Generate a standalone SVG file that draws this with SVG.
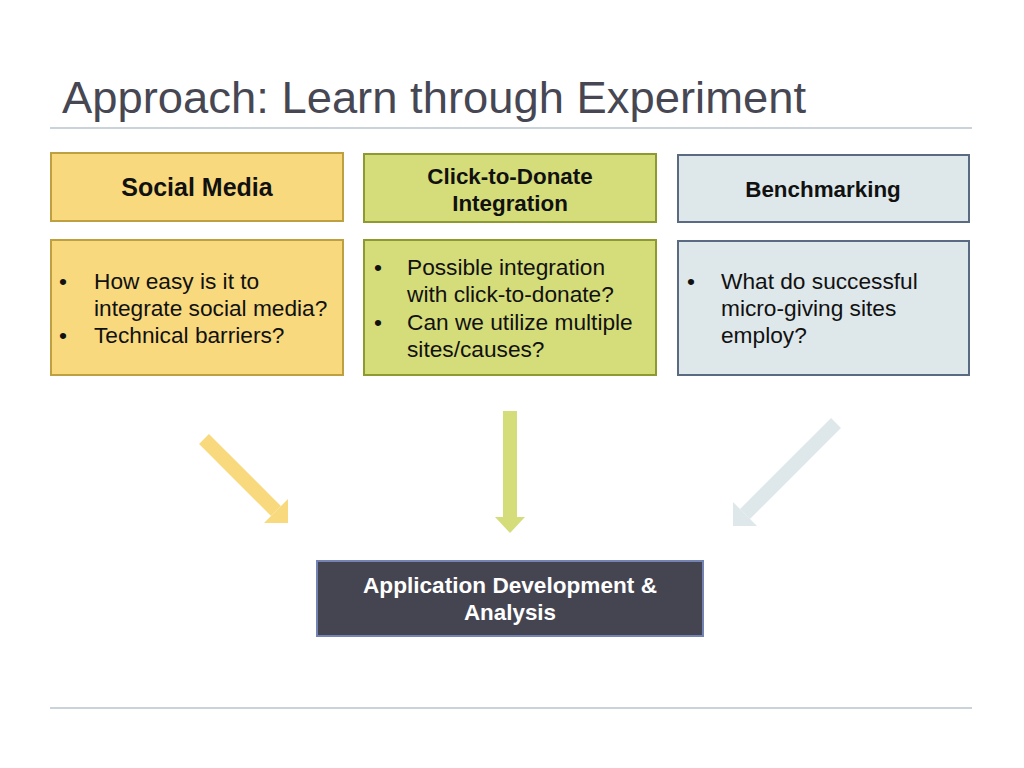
<svg xmlns="http://www.w3.org/2000/svg" width="1024" height="768" viewBox="0 0 1024 768">
<style>
.t{font-family:"Liberation Sans",Arial,sans-serif;fill:#111;font-size:22.7px}
.h{font-weight:bold;text-anchor:middle;font-size:22.4px}
.w{fill:#fff}
.title{font-family:"Liberation Sans",Arial,sans-serif;fill:#474753;font-size:45px}
.sm{fill:#f8d97e;stroke:#bfa040;stroke-width:2}
.cd{fill:#d5dc7a;stroke:#8c9a30;stroke-width:2}
.bm{fill:#dee7ea;stroke:#5a6a82;stroke-width:2}
.rule{stroke:#cbd3da;stroke-width:2}
</style>
<rect width="1024" height="768" fill="#fff"/>
<text class="title" x="62" y="113" textLength="744" lengthAdjust="spacingAndGlyphs">Approach: Learn through Experiment</text>
<line class="rule" x1="50" y1="128" x2="972" y2="128"/>
<line class="rule" x1="50" y1="708" x2="972" y2="708"/>

<g id="social-media">
<rect class="sm" x="51" y="153" width="292" height="68"/>
<text class="t h" x="197" y="196" style="font-size:25px">Social Media</text>
</g>
<g id="social-media-questions">
<rect class="sm" x="51" y="240" width="292" height="135"/>
<text class="t" x="59" y="289">•</text><text class="t" x="94" y="289">How easy is it to</text>
<text class="t" x="94" y="316">integrate social media?</text>
<text class="t" x="59" y="343">•</text><text class="t" x="94" y="343">Technical barriers?</text>
</g>

<g id="click-to-donate">
<rect class="cd" x="364" y="154" width="292" height="68"/>
<text class="t h" x="510" y="184">Click-to-Donate</text>
<text class="t h" x="510" y="211">Integration</text>
</g>
<g id="click-to-donate-questions">
<rect class="cd" x="364" y="240" width="292" height="135"/>
<text class="t" x="374" y="275">•</text><text class="t" x="407" y="275">Possible integration</text>
<text class="t" x="407" y="302">with click-to-donate?</text>
<text class="t" x="374" y="330">•</text><text class="t" x="407" y="330">Can we utilize multiple</text>
<text class="t" x="407" y="357">sites/causes?</text>
</g>

<g id="benchmarking">
<rect class="bm" x="678" y="155" width="291" height="67"/>
<text class="t h" x="823" y="197">Benchmarking</text>
</g>
<g id="benchmarking-questions">
<rect class="bm" x="678" y="241" width="291" height="134"/>
<text class="t" x="687" y="289">•</text><text class="t" x="721" y="289">What do successful</text>
<text class="t" x="721" y="316">micro-giving sites</text>
<text class="t" x="721" y="343">employ?</text>
</g>

<g id="connectors">
<line x1="204" y1="439" x2="276" y2="511" stroke="#f8d97e" stroke-width="14"/>
<polygon points="288,523 288,499 264,523" fill="#f8d97e"/>
<line x1="510" y1="411" x2="510" y2="518" stroke="#d5dc7a" stroke-width="14"/>
<polygon points="495,517 525,517 510,533" fill="#d5dc7a"/>
<line x1="836" y1="423" x2="745" y2="514" stroke="#dee7ea" stroke-width="14"/>
<polygon points="733,526 733,502 757,526" fill="#dee7ea"/>
</g>

<g id="application-development">
<rect x="317" y="561" width="386" height="75" fill="#454552" stroke="#7283b4" stroke-width="2"/>
<text class="t h w" x="510" y="593" textLength="294" lengthAdjust="spacingAndGlyphs">Application Development &amp;</text>
<text class="t h w" x="510" y="620">Analysis</text>
</g>
</svg>
